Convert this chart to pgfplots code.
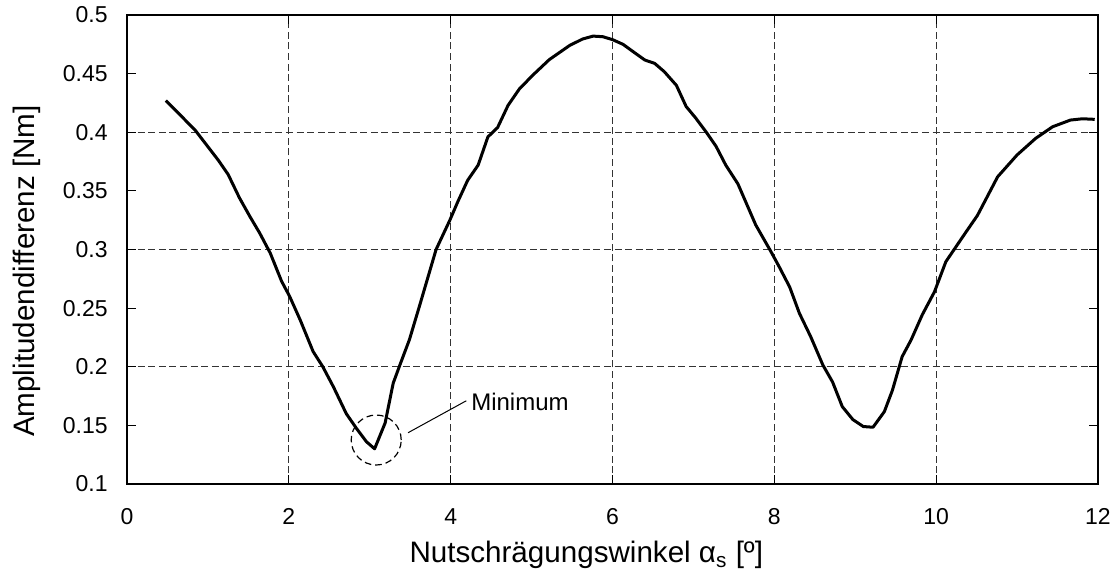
\documentclass[border=0pt]{standalone}
\usepackage{fontspec}
\setmainfont{Liberation Sans}
\usepackage{pgfplots}
\pgfplotsset{compat=1.18}
\newcommand\tl[1]{{\fontsize{11.5}{13}\selectfont #1}}
\begin{document}
\begin{tikzpicture}
\begin{axis}[
  scale only axis,
  width=485.5pt, height=234.5pt,
  xmin=0, xmax=12, ymin=0.1, ymax=0.5,
  xtick={0,2,4,6,8,10,12},
  xticklabels={\tl{0},\tl{2},\tl{4},\tl{6},\tl{8},\tl{10},\tl{12}},
  ytick={0.1,0.15,0.2,0.25,0.3,0.35,0.4,0.45,0.5},
  yticklabels={\tl{0.1},\tl{0.15},\tl{0.2},\tl{0.25},\tl{0.3},\tl{0.35},\tl{0.4},\tl{0.45},\tl{0.5}},
  tick align=inside,
  major tick length=4.5pt,
  tick style={black, line width=0.5pt},
  axis line style={black, line width=0.6pt},
  xmajorgrids=true,
  extra y ticks={0.2,0.3,0.4},
  extra y tick labels={},
  extra y tick style={grid=major},
  major grid style={black!80, line width=0.5pt, dash pattern=on 3.5pt off 1.8pt},
  xticklabel style={inner sep=0pt, anchor=north},
  yticklabel style={inner sep=0pt, anchor=east},
  xticklabel shift=12pt,
  yticklabel shift=9.5pt,
  xlabel={Nutschrägungswinkel α\textsubscript{s} [º]},
  ylabel={Amplitudendifferenz [Nm]},
  label style={font=\fontsize{14.8}{17}\selectfont},
  xlabel style={at={(axis description cs:0.473,-0.168)}, anchor=base},
  ylabel style={at={(axis description cs:-0.103,0.454)}, anchor=center, rotate=0},
]
\addplot[black, line width=1.5pt, line join=round] coordinates {
(0.48,0.427) (0.84,0.402) (1.13,0.376) (1.25,0.364) (1.39,0.344) (1.52,0.328)
(1.64,0.314) (1.77,0.297) (1.91,0.273) (2.01,0.260) (2.14,0.240) (2.30,0.213)
(2.42,0.200) (2.55,0.183) (2.71,0.160) (2.84,0.147) (2.96,0.136) (3.06,0.130)
(3.19,0.152) (3.29,0.186) (3.37,0.201) (3.49,0.223) (3.62,0.253) (3.82,0.300)
(3.99,0.325) (4.09,0.341) (4.21,0.359) (4.34,0.372) (4.46,0.396) (4.58,0.404)
(4.71,0.423) (4.85,0.437) (5.02,0.449) (5.22,0.462) (5.47,0.474) (5.63,0.4795)
(5.76,0.482) (5.88,0.4815) (6.00,0.479) (6.13,0.475) (6.25,0.469) (6.40,0.4616)
(6.52,0.4588) (6.64,0.4517) (6.79,0.440) (6.91,0.422) (7.03,0.412) (7.16,0.400)
(7.28,0.388) (7.40,0.372) (7.55,0.356) (7.77,0.321) (7.96,0.298) (8.06,0.2853)
(8.19,0.268) (8.31,0.2456) (8.45,0.2256) (8.60,0.2015) (8.72,0.187) (8.84,0.166)
(8.97,0.155) (9.10,0.149) (9.22,0.1484) (9.36,0.1617) (9.46,0.180) (9.58,0.2086)
(9.69,0.2228) (9.83,0.2445) (9.98,0.264) (10.12,0.2896) (10.37,0.315) (10.51,0.329)
(10.76,0.362) (11.00,0.3806) (11.23,0.3948) (11.44,0.4047) (11.66,0.4104) (11.81,0.4115)
(11.96,0.411)
};
\draw[black, line width=0.6pt, dash pattern=on 3.3pt off 2pt] (axis cs:3.08,0.1375) circle (12.5pt);
\draw[black, line width=0.5pt] (axis cs:3.473,0.1437) -- (axis cs:4.194,0.171);
\node[anchor=west, inner sep=0pt, font=\fontsize{12}{14}\selectfont] at (axis cs:4.25,0.170) {Minimum};
\coordinate (bbl) at (rel axis cs:-0.1308,-0.1812);
\coordinate (btr) at (rel axis cs:1.0124,1.032);
\end{axis}
\pgfresetboundingbox
\path[use as bounding box] (bbl) rectangle (btr);
\end{tikzpicture}
\end{document}
